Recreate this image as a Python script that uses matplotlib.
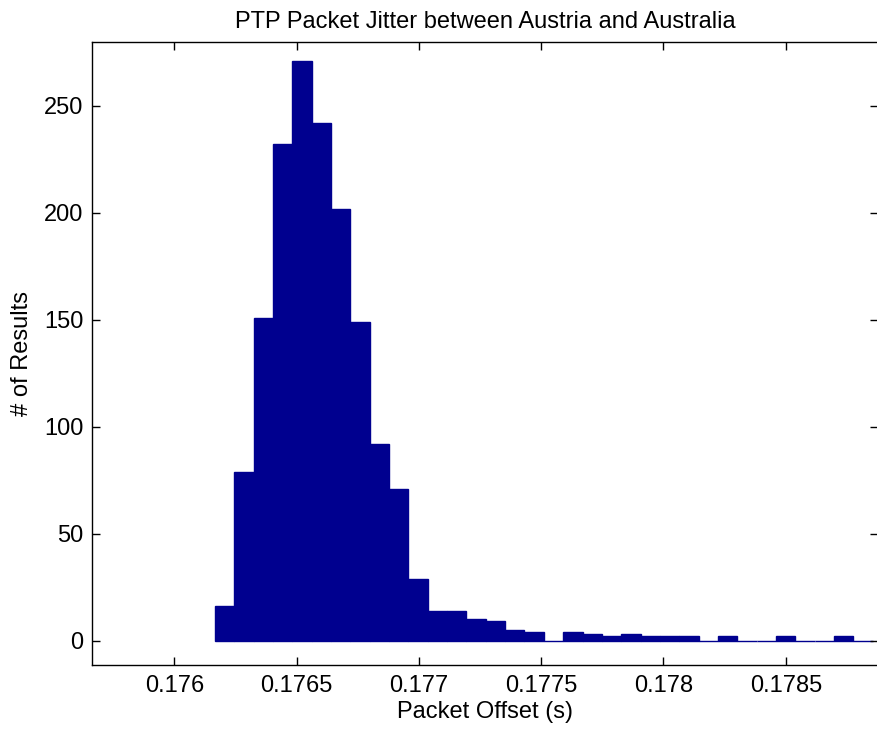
import matplotlib
matplotlib.use("Agg")
import matplotlib.pyplot as plt
import numpy as np

# ---- data ----
bin_first_edge = 0.176166     # left edge of first bin (s)
bin_width = 7.91e-5           # bin width (s)
counts = [16, 79, 151, 232, 271, 242, 202, 149, 92, 71, 29, 14, 14, 10, 9,
          5, 4, 0, 4, 3, 2, 3, 2, 2, 2, 0, 2, 0, 0, 2, 0, 0, 2, 0]
x_ticks = [0.176, 0.1765, 0.177, 0.1775, 0.178, 0.1785]
x_tick_labels = ["0.176", "0.1765", "0.177", "0.1775", "0.178", "0.1785"]
y_ticks = [0, 50, 100, 150, 200, 250]
title = "PTP Packet Jitter between Austria and Australia"
x_label = "Packet Offset (s)"
y_label = "# of Results"

plt.rcParams['font.family'] = ['Liberation Sans', 'DejaVu Sans']

fig = plt.figure(figsize=(8.77, 7.30), dpi=100)
ax = fig.add_axes([0.1046, 0.0890, 0.8965, 0.8531])

edges = bin_first_edge + bin_width * np.arange(len(counts) + 1)
ax.bar(edges[:-1], counts, width=bin_width, align='edge',
       color='#00008F', edgecolor='#00008F', linewidth=1.0)

ax.set_xlim(0.175662, 0.178877)
ax.set_ylim(-11.4, 279.8)
ax.set_xticks(x_ticks)
ax.set_xticklabels(x_tick_labels)
ax.set_yticks(y_ticks)

ax.tick_params(direction='in', length=6, width=1, top=True, right=True,
               labelsize=17, color='black')
ax.tick_params(axis='x', pad=7)
ax.tick_params(axis='y', pad=6)
for s in ax.spines.values():
    s.set_linewidth(1.0)
    s.set_color('black')

ax.set_title(title, fontsize=17, pad=10)
ax.set_xlabel(x_label, fontsize=17, labelpad=3)
ax.set_ylabel(y_label, fontsize=17, labelpad=8)

fig.savefig("out.png", dpi=100)
